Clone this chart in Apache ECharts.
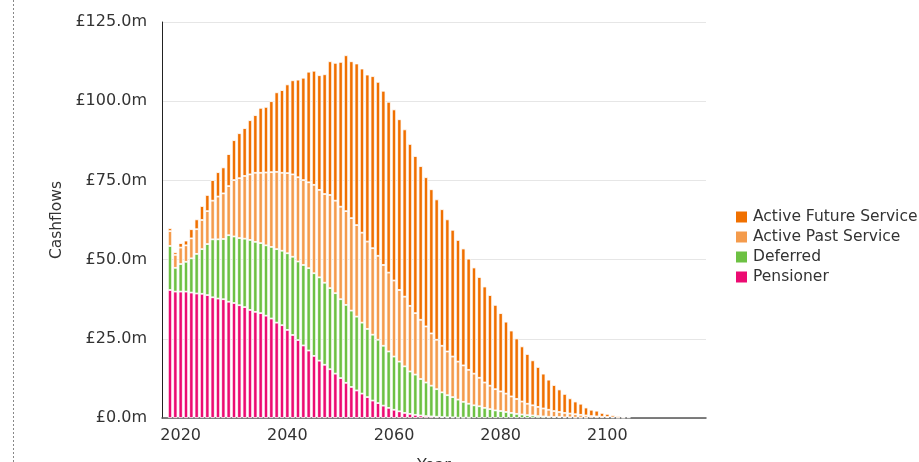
<!DOCTYPE html>
<html>
<head>
<meta charset="utf-8">
<script src="https://cdn.jsdelivr.net/npm/echarts@6/dist/echarts.min.js"></script>
<style>
  html, body { margin: 0; padding: 0; background: #fff; }
  #chart { width: 919px; height: 462px; }
</style>
</head>
<body>
<div id="chart"></div>
<script>
    // years on the axis, 2017 .. 2118 (2017 has no cashflow)
    var firstYear = 2017;
    var lastYear = 2118;
    var years = [];
    for (var y = firstYear; y <= lastYear; y++) years.push(String(y));

    var yTicks = [0, 25, 50, 75, 100, 125];

    // £m per year, first entry is 2017 (empty)
    var pensioner = [null,
        40.4, 39.9, 39.9, 39.9, 39.6, 39.3, 39.2, 38.8, 38.1, 37.7,
        37.5, 36.7, 36.3, 35.6, 35.0, 34.1, 33.5, 33.1, 32.3, 31.4,
        30.1, 29.3, 27.8, 26.2, 24.6, 22.9, 21.3, 19.6, 18.1, 16.8,
        15.4, 14.0, 12.6, 11.1, 9.8, 8.7, 7.7, 6.6, 5.5, 4.7,
        3.9, 3.2, 2.6, 2.1, 1.6, 1.3, 1.0, 0.8, 0.6, 0.5,
        0.4, 0.3, 0.2, 0.2, 0.1, 0.1, 0.1
    ];
    var deferred = [null,
        13.9, 7.5, 8.7, 9.4, 10.8, 12.5, 14.1, 16.1, 18.3, 18.7,
        19.0, 21.0, 21.0, 21.2, 21.6, 22.1, 22.1, 22.1, 22.2, 22.6,
        23.2, 23.5, 24.2, 24.7, 24.8, 25.4, 26.0, 26.1, 26.3, 25.9,
        25.6, 25.4, 24.9, 24.6, 24.1, 23.3, 22.4, 21.5, 20.8, 20.0,
        18.9, 17.8, 16.8, 15.7, 14.7, 13.4, 12.7, 11.5, 10.6, 9.7,
        8.7, 7.8, 7.0, 6.4, 5.7, 5.0, 4.4, 4.0, 3.7, 3.2,
        2.8, 2.4, 2.2, 1.9, 1.6, 1.3, 1.1, 0.9, 0.8, 0.6,
        0.5, 0.4, 0.3, 0.3, 0.2, 0.2, 0.1, 0.1, 0.1
    ];
    var activePast = [null,
        4.7, 4.1, 5.2, 5.2, 6.3, 7.8, 9.2, 10.4, 12.2, 13.5,
        14.4, 15.5, 17.8, 18.9, 19.8, 20.7, 21.8, 22.2, 23.0, 23.6,
        24.4, 24.6, 25.3, 26.0, 26.6, 26.8, 27.1, 27.9, 27.6, 28.0,
        29.4, 29.2, 29.2, 29.6, 29.2, 28.9, 28.4, 27.6, 27.3, 26.5,
        25.5, 24.9, 24.0, 22.6, 22.0, 20.7, 19.4, 18.7, 17.7, 16.5,
        15.6, 14.7, 13.8, 12.8, 12.0, 11.5, 10.7, 10.0, 9.0, 8.0,
        7.4, 6.7, 6.2, 5.8, 5.2, 4.7, 4.1, 3.6, 3.2, 2.9,
        2.5, 2.2, 1.9, 1.6, 1.4, 1.2, 1.1, 0.9, 0.7, 0.6,
        0.5, 0.4, 0.3, 0.2, 0.1, 0.1
    ];
    var activeFuture = [null,
        0.9, 0.8, 1.4, 1.5, 2.9, 3.1, 4.4, 5.1, 6.5, 7.7,
        8.2, 10.1, 12.6, 14.2, 15.1, 17.1, 18.2, 20.5, 20.7, 22.4,
        25.1, 26.1, 28.0, 29.7, 30.8, 32.3, 34.9, 36.0, 36.2, 37.8,
        42.2, 43.5, 45.7, 49.2, 49.5, 51.0, 51.8, 52.7, 54.3, 54.9,
        55.0, 53.9, 54.0, 53.9, 52.8, 51.1, 49.6, 48.5, 47.1, 45.5,
        44.3, 43.1, 41.7, 40.0, 38.4, 36.9, 35.1, 33.5, 31.8, 30.3,
        28.6, 26.6, 24.7, 22.7, 20.8, 19.1, 17.4, 15.7, 14.2, 12.6,
        11.0, 9.5, 8.2, 7.1, 6.0, 4.8, 4.0, 3.5, 2.5, 2.0,
        1.8, 1.2, 1.0, 0.7, 0.5, 0.3, 0.2
    ];

    var seriesNames = ['Pensioner', 'Deferred', 'Active Past Service', 'Active Future Service'];
    var seriesColors = ['#ec0b72', '#6dc143', '#f49b4c', '#f07000'];
    var seriesData = [pensioner, deferred, activePast, activeFuture];

    var font = 'DejaVu Sans';
    var myChart = echarts.init(document.getElementById('chart'), null, { renderer: 'canvas' });

    var series = [];
    for (var i = 0; i < seriesNames.length; i++) {
        series.push({
            name: seriesNames[i],
            type: 'bar',
            stack: 'cash',
            data: seriesData[i],
            barWidth: 4.2,
            itemStyle: {
                color: seriesColors[i],
                borderColor: '#ffffff',
                borderWidth: 0.8
            },
            emphasis: { disabled: true }
        });
    }

    var option = {
        animation: false,
        backgroundColor: '#ffffff',
        textStyle: { fontFamily: font },
        grid: { left: 162, right: 213, top: 22, bottom: 44, containLabel: false, outerBoundsMode: 'none' },
        graphic: [{
            type: 'line',
            shape: { x1: 13.5, y1: 0, x2: 13.5, y2: 462 },
            style: { stroke: '#888', lineWidth: 1, lineDash: [2, 2] }
        }],
        legend: {
            orient: 'vertical',
            left: 729,
            top: 204,
            itemWidth: 13,
            itemHeight: 13,
            itemGap: 4,
            icon: 'rect',
            data: ['Active Future Service', 'Active Past Service', 'Deferred', 'Pensioner'],
            textStyle: { fontFamily: font, fontSize: 15.5, color: '#333', lineHeight: 15 }
        },
        xAxis: {
            type: 'category',
            data: years,
            name: 'Year',
            nameLocation: 'middle',
            nameGap: 40,
            nameTextStyle: { fontFamily: font, fontSize: 16, color: '#333' },
            axisLine: { lineStyle: { color: '#555', width: 1.5 } },
            axisTick: {
                alignWithLabel: true,
                length: 10,
                lineStyle: { color: '#ccd6eb' },
                interval: function (idx, val) { return Number(val) % 20 === 0; }
            },
            axisLabel: {
                fontFamily: font, fontSize: 16, color: '#333', margin: 10,
                interval: function (idx, val) { return Number(val) % 20 === 0; }
            },
            splitLine: { show: false }
        },
        yAxis: {
            type: 'value',
            min: yTicks[0],
            max: yTicks[yTicks.length - 1],
            interval: 25,
            name: 'Cashflows',
            nameLocation: 'middle',
            nameGap: 95,
            nameTextStyle: { fontFamily: font, fontSize: 15.5, color: '#333' },
            axisLine: { show: true, lineStyle: { color: '#222', width: 1 } },
            axisTick: { show: false },
            axisLabel: {
                fontFamily: font, fontSize: 16, color: '#333', margin: 15,
                formatter: function (v) { return '£' + v.toFixed(1) + 'm'; }
            },
            splitLine: { lineStyle: { color: '#e6e6e6', width: 1 } }
        },
        series: series
    };

    myChart.setOption(option);
    window.addEventListener('resize', function () { myChart.resize(); });
</script>
</body>
</html>
